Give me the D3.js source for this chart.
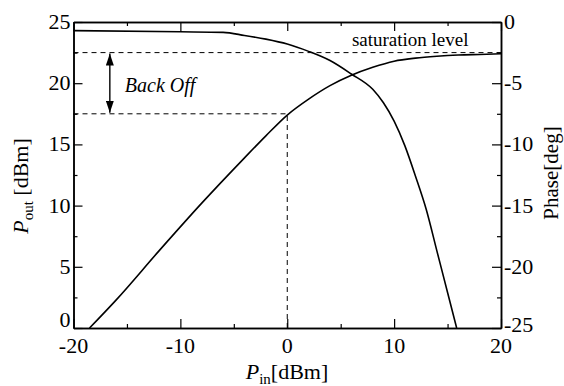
<!DOCTYPE html>
<html>
<head>
<meta charset="utf-8">
<script src="https://cdn.jsdelivr.net/npm/d3@7"></script>
<style>
  html, body { margin: 0; padding: 0; background: #fff; }
  svg { display: block; }
  text { font-family: "Liberation Serif", "Times New Roman", serif; fill: #000; }
</style>
</head>
<body>
<svg id="chart" width="564" height="386"></svg>
<script>
// Input power sweep and amplifier response
const pinOut = [-18.5, -16, -12, -8, -4, -2, 0, 2, 4, 6, 8, 10, 12, 14, 16, 18, 20];
const poutValues = [0, 2.3, 6.3, 10.2, 13.9, 15.7, 17.4, 18.7, 19.8, 20.65, 21.3, 21.8, 22.05, 22.2, 22.3, 22.35, 22.4];

const pinPhase = [-20, -10, -6, -4, -2, 0, 2, 4, 6, 8, 9, 10, 11, 12, 13, 14, 15, 15.85];
const phaseValues = [-0.7, -0.8, -0.85, -1.1, -1.4, -1.8, -2.4, -3.15, -4.25, -5.5, -6.6, -8.1, -10.1, -12.6, -15.3, -18.7, -22.1, -25];

const saturationLevel = 22.5;
const backOffLevel = 17.5;
const backOffPin = 0;

const xTicks = [-20, -10, 0, 10, 20];
const xMinorTicks = [-15, -5, 5, 15];
const yLeftTicks = [0, 5, 10, 15, 20, 25];
const yLeftMinor = [2.5, 7.5, 12.5, 17.5, 22.5];
const yRightTicks = [0, -5, -10, -15, -20, -25];
const yRightMinor = [-2.5, -7.5, -12.5, -17.5, -22.5];

const svg = d3.select("#chart");
const L = 73.5, R = 501, T = 22, B = 328;

const x = d3.scaleLinear().domain([-20, 20]).range([L, R]);
const yL = d3.scaleLinear().domain([0, 25]).range([B, T]);
const yR = d3.scaleLinear().domain([-25, 0]).range([B, T]);

const major = 9, minor = 4;

// axes: ticks point into the plot
function axis(gen, tx, ty) {
  const g = svg.append("g").attr("transform", `translate(${tx},${ty})`).call(gen);
  g.selectAll("path.domain").attr("stroke", "#000").attr("stroke-width", 1.5);
  g.selectAll(".tick line").attr("stroke", "#000").attr("stroke-width", 1.2);
  return g;
}

// bottom
axis(d3.axisBottom(x).tickValues(xTicks).tickSize(-major).tickSizeOuter(0).tickFormat(""), 0, B);
axis(d3.axisBottom(x).tickValues(xMinorTicks).tickSize(-minor).tickSizeOuter(0).tickFormat(""), 0, B);
// top
axis(d3.axisTop(x).tickValues(xTicks).tickSize(-major).tickSizeOuter(0).tickFormat(""), 0, T);
axis(d3.axisTop(x).tickValues(xMinorTicks).tickSize(-minor).tickSizeOuter(0).tickFormat(""), 0, T);
// left
axis(d3.axisLeft(yL).tickValues(yLeftTicks).tickSize(-major).tickSizeOuter(0).tickFormat(""), L, 0);
axis(d3.axisLeft(yL).tickValues(yLeftMinor).tickSize(-minor).tickSizeOuter(0).tickFormat(""), L, 0);
// right
axis(d3.axisRight(yR).tickValues(yRightTicks).tickSize(-major).tickSizeOuter(0).tickFormat(""), R, 0);
axis(d3.axisRight(yR).tickValues(yRightMinor).tickSize(-minor).tickSizeOuter(0).tickFormat(""), R, 0);

// tick labels
const fs = 22;
svg.append("g").selectAll("text").data(xTicks).join("text")
  .attr("x", d => x(d)).attr("y", B + 25)
  .attr("text-anchor", "middle").attr("font-size", fs)
  .text(d => d < 0 ? "-" + Math.abs(d) : d);

// the lowest labels on the side axes sit a little higher, clear of the x labels
svg.append("g").selectAll("text").data(yLeftTicks).join("text")
  .attr("x", L - 3).attr("y", d => yL(d) + (d === 0 ? -1 : 7))
  .attr("text-anchor", "end").attr("font-size", fs)
  .text(d => d);

svg.append("g").selectAll("text").data(yRightTicks).join("text")
  .attr("x", R + 3).attr("y", d => yR(d) + (d === -25 ? 4 : 7))
  .attr("text-anchor", "start").attr("font-size", fs)
  .text(d => d < 0 ? "-" + Math.abs(d) : d);

// axis titles
const xt = svg.append("text").attr("x", 287).attr("y", 379)
  .attr("text-anchor", "middle").attr("font-size", fs);
xt.append("tspan").attr("font-style", "italic").text("P");
xt.append("tspan").attr("font-size", 15).attr("dy", 5).text("in");
xt.append("tspan").attr("dy", -5).text("[dBm]");

const ylt = svg.append("text").attr("transform", "translate(28,186) rotate(-90)")
  .attr("text-anchor", "middle").attr("font-size", fs);
ylt.append("tspan").attr("font-style", "italic").text("P");
ylt.append("tspan").attr("font-size", 15).attr("dy", 5).text("out");
ylt.append("tspan").attr("dy", -5).text(" [dBm]");

svg.append("text").attr("transform", "translate(558,173) rotate(-90)")
  .attr("text-anchor", "middle").attr("font-size", 21)
  .text("Phase[deg]");

// reference lines
const dash = "5,4";
svg.append("line")
  .attr("x1", x(-20)).attr("x2", x(20))
  .attr("y1", yL(saturationLevel)).attr("y2", yL(saturationLevel))
  .attr("stroke", "#000").attr("stroke-width", 1).attr("stroke-dasharray", dash);
svg.append("line")
  .attr("x1", x(-20)).attr("x2", x(backOffPin))
  .attr("y1", yL(backOffLevel)).attr("y2", yL(backOffLevel))
  .attr("stroke", "#000").attr("stroke-width", 1).attr("stroke-dasharray", dash);
svg.append("line")
  .attr("x1", x(backOffPin)).attr("x2", x(backOffPin))
  .attr("y1", yL(0)).attr("y2", yL(backOffLevel))
  .attr("stroke", "#000").attr("stroke-width", 1).attr("stroke-dasharray", dash);

// curves
const lineOut = d3.line().x((d, i) => x(pinOut[i])).y(d => yL(d)).curve(d3.curveMonotoneX);
svg.append("path").datum(poutValues).attr("d", lineOut)
  .attr("fill", "none").attr("stroke", "#000").attr("stroke-width", 1.6);

const linePhase = d3.line().x((d, i) => x(pinPhase[i])).y(d => yR(d)).curve(d3.curveMonotoneX);
svg.append("path").datum(phaseValues).attr("d", linePhase)
  .attr("fill", "none").attr("stroke", "#000").attr("stroke-width", 1.6);

// back-off arrow
const defs = svg.append("defs");
defs.append("marker").attr("id", "head")
  .attr("viewBox", "0 0 12 8").attr("refX", 12).attr("refY", 4)
  .attr("markerWidth", 12).attr("markerHeight", 8)
  .attr("markerUnits", "userSpaceOnUse").attr("orient", "auto-start-reverse")
  .append("path").attr("d", "M0,0 L12,4 L0,8 Z").attr("fill", "#000");

svg.append("line")
  .attr("x1", x(-16.6)).attr("x2", x(-16.6))
  .attr("y1", yL(saturationLevel) + 1).attr("y2", yL(backOffLevel) - 1)
  .attr("stroke", "#000").attr("stroke-width", 1.4)
  .attr("marker-start", "url(#head)").attr("marker-end", "url(#head)");

svg.append("text").attr("x", x(-15.2)).attr("y", yL(19.3))
  .attr("font-size", 20).attr("font-style", "italic").text("Back Off");

svg.append("text").attr("x", x(6.05)).attr("y", yL(23.0))
  .attr("font-size", 19).text("saturation level");
</script>
</body>
</html>
